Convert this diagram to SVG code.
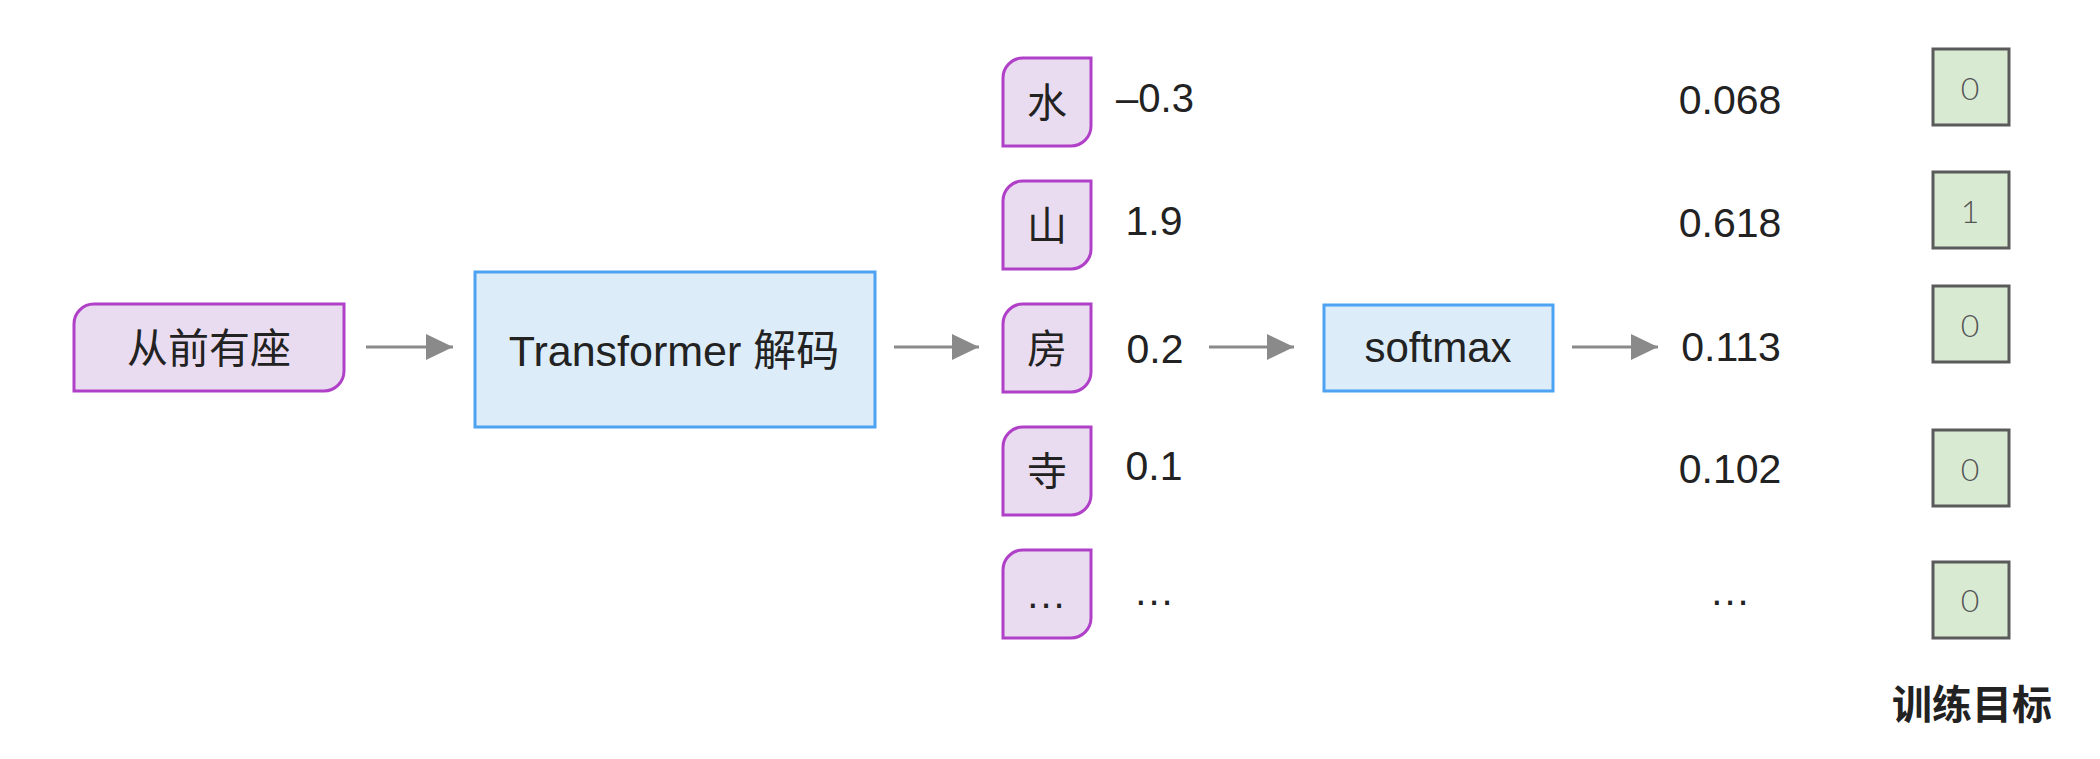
<svg xmlns="http://www.w3.org/2000/svg" width="2100" height="759" viewBox="0 0 2100 759">
<style>
.t{font-family:"Liberation Sans","Noto Sans CJK SC",sans-serif;fill:#222;text-anchor:middle}
.c{font-family:"Noto Sans CJK SC","Liberation Sans",sans-serif;fill:#222;text-anchor:middle}
.pur{fill:#EADCF0;stroke:#B040C8;stroke-width:3}
.blu{fill:#DCECF8;stroke:#4DA2F2;stroke-width:3}
.grn{fill:#D9EAD3;stroke:#5A5A5A;stroke-width:3}
.g{font-family:"Lato","Liberation Sans",sans-serif;font-weight:300;fill:#555;font-size:32px;text-anchor:middle}
.ar{stroke:#8A8A8A;stroke-width:3;fill:none;marker-end:url(#ah)}
</style>
<defs>
<marker id="ah" markerUnits="userSpaceOnUse" markerWidth="28" markerHeight="28" refX="27" refY="13" orient="auto">
<path d="M0,0 L27,13 L0,26 Z" fill="#8A8A8A"/>
</marker>
</defs>
<rect width="2100" height="759" fill="#fff"/>
<g id="input">
<path class="pur" d="M94,304 H344 V371 A20 20 0 0 1 324,391 H74 V324 A20 20 0 0 1 94,304 Z"/>
<text class="c" x="209" y="363" font-size="41">从前有座</text>
</g>
<g id="decoder">
<rect class="blu" x="475" y="272" width="400" height="155"/>
<text class="t" x="674" y="366" font-size="43">Transformer 解码</text>
</g>
<g id="tok-shui">
<path class="pur" d="M1023,58 H1091 V126 A20 20 0 0 1 1071,146 H1003 V78 A20 20 0 0 1 1023,58 Z"/>
<text class="c" x="1047" y="117" font-size="40">水</text>
</g>
<g id="tok-shan">
<path class="pur" d="M1023,181 H1091 V249 A20 20 0 0 1 1071,269 H1003 V201 A20 20 0 0 1 1023,181 Z"/>
<text class="c" x="1047" y="240" font-size="40">山</text>
</g>
<g id="tok-fang">
<path class="pur" d="M1023,304 H1091 V372 A20 20 0 0 1 1071,392 H1003 V324 A20 20 0 0 1 1023,304 Z"/>
<text class="c" x="1047" y="363" font-size="40">房</text>
</g>
<g id="tok-si">
<path class="pur" d="M1023,427 H1091 V495 A20 20 0 0 1 1071,515 H1003 V447 A20 20 0 0 1 1023,427 Z"/>
<text class="c" x="1047" y="486" font-size="40">寺</text>
</g>
<g id="tok-more">
<path class="pur" d="M1023,550 H1091 V618 A20 20 0 0 1 1071,638 H1003 V570 A20 20 0 0 1 1023,550 Z"/>
<text class="t" x="1047" y="608" font-size="40" letter-spacing="2">...</text>
</g>
<g id="logits">
<text class="t" x="1155" y="112" font-size="40">–0.3</text>
<text class="t" x="1154" y="235" font-size="41">1.9</text>
<text class="t" x="1155" y="363" font-size="41">0.2</text>
<text class="t" x="1154" y="480" font-size="41">0.1</text>
<text class="t" x="1155" y="605" font-size="40" letter-spacing="2">...</text>
</g>
<g id="softmax">
<rect class="blu" x="1324" y="305" width="229" height="86"/>
<text class="t" x="1438" y="362" font-size="42">softmax</text>
</g>
<g id="probs">
<text class="t" x="1730" y="114" font-size="41">0.068</text>
<text class="t" x="1730" y="237" font-size="41">0.618</text>
<text class="t" x="1731" y="361" font-size="41">0.113</text>
<text class="t" x="1730" y="483" font-size="41">0.102</text>
<text class="t" x="1731" y="605" font-size="40" letter-spacing="2">...</text>
</g>
<g id="target">
<rect class="grn" x="1933" y="49" width="76" height="76"/>
<text class="g" x="1970" y="100">0</text>
<rect class="grn" x="1933" y="172" width="76" height="76"/>
<text class="g" x="1970" y="223">1</text>
<rect class="grn" x="1933" y="286" width="76" height="76"/>
<text class="g" x="1970" y="337">0</text>
<rect class="grn" x="1933" y="430" width="76" height="76"/>
<text class="g" x="1970" y="481">0</text>
<rect class="grn" x="1933" y="562" width="76" height="76"/>
<text class="g" x="1970" y="612">0</text>
<text class="c" x="1972" y="719" font-size="40" font-weight="bold">训练目标</text>
</g>
<g id="connectors">
<line class="ar" x1="366" y1="347" x2="453" y2="347"/>
<line class="ar" x1="894" y1="347" x2="979" y2="347"/>
<line class="ar" x1="1209" y1="347" x2="1294" y2="347"/>
<line class="ar" x1="1572" y1="347" x2="1658" y2="347"/>
</g>
</svg>
